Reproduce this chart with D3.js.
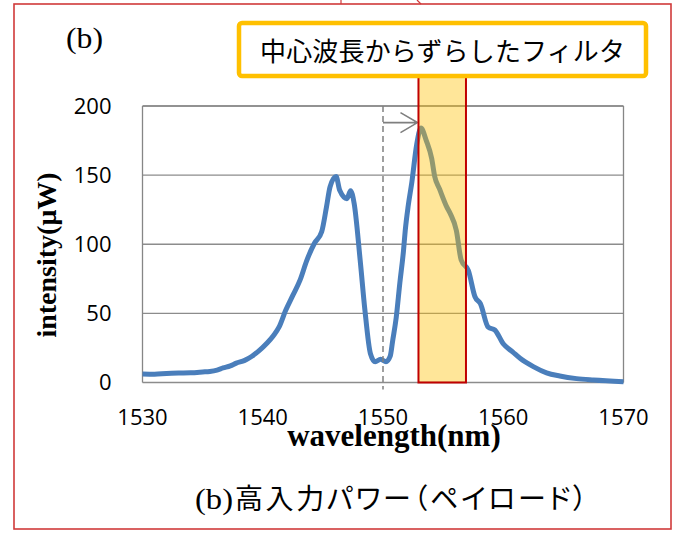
<!DOCTYPE html>
<html>
<head>
<meta charset="utf-8">
<script src="https://cdn.jsdelivr.net/npm/d3@7"></script>
<style>
  body { margin: 0; background: #fff; }
  svg { display: block; }
</style>
</head>
<body>
<div id="chart"></div>
<script>
// Spectrum under high input power, with a filter shifted from centre wavelength

const wavelengths = [
  1530, 1531, 1532, 1533, 1534, 1535, 1535.6, 1536.2, 1536.7, 1537.3,
  1537.8, 1538.5, 1539.1, 1539.7, 1540.3, 1540.9, 1541.35, 1541.9, 1542.5, 1543.1,
  1543.65, 1544.3, 1544.9, 1545.3, 1545.6, 1546.1, 1546.4, 1547.0, 1547.3, 1547.6,
  1548.1, 1548.5, 1548.95, 1549.35, 1549.8, 1550.25, 1550.6, 1550.8, 1551.1, 1551.4,
  1551.7, 1551.85, 1552.1, 1552.4, 1552.8, 1553.15, 1553.6, 1554.05, 1554.3, 1554.7,
  1555.3, 1555.6, 1556.1, 1556.5, 1557.1, 1557.65, 1558.1, 1558.75, 1559.3, 1560.0,
  1560.8, 1561.4, 1562.5, 1563.6, 1564.7, 1566.1, 1567.5, 1570
];
const intensities = [
  6.2, 6.0, 6.5, 6.8, 7.0, 7.6, 8.0, 9.0, 10.5, 12,
  14, 16, 19, 23, 28, 34, 40, 52, 63, 74,
  88, 100.7, 109, 127, 141.6, 149, 139, 133, 138.7, 129.6,
  88.6, 52, 21, 15, 16.8, 15, 19, 30, 47, 72,
  95, 110, 128, 145, 172, 184, 175, 162, 149, 140,
  127, 122, 110, 88.6, 81, 62, 57, 40, 38, 28,
  22, 17.5, 11.5, 7, 4.7, 2.8, 1.8, 0.6
];

const xTicks = [1530, 1540, 1550, 1560, 1570];
const yTicks = [0, 50, 100, 150, 200];

// filter band and the shift arrow
const filterBand = [1552.95, 1556.9];
const centerWavelength = 1550;
const arrowLevel = 188;

const panelLabel = '(b)';
const filterNote = '中心波長からずらしたフィルタ';
const xTitle = 'wavelength(nm)';
const yTitle = 'intensity(μW)';
const captionLatin = '(b)';
const captionCjk = '高入力パワー（ペイロード）';

const W = 674, H = 534;
const plot = { left: 142.5, right: 623.5, top: 106, bottom: 382.5 };

const svg = d3.select('#chart').append('svg')
  .attr('width', W)
  .attr('height', H);

// red outer frame (cropped slide)
svg.append('rect')
  .attr('x', 14).attr('y', 4)
  .attr('width', 657).attr('height', 525)
  .attr('fill', 'none')
  .attr('stroke', '#d03a3a')
  .attr('stroke-width', 1.6);
svg.append('line')
  .attr('x1', 341).attr('y1', 0).attr('x2', 341).attr('y2', 4)
  .attr('stroke', '#d03a3a').attr('stroke-width', 1.2);
svg.append('path')
  .attr('d', 'M417,0 Q419,2 421,4')
  .attr('fill', 'none')
  .attr('stroke', '#d03a3a').attr('stroke-width', 1.2);

const x = d3.scaleLinear().domain([1530, 1570]).range([plot.left, plot.right]);
const y = d3.scaleLinear().domain([0, 200]).range([plot.bottom, plot.top]);

// gridlines
svg.append('g')
  .selectAll('line')
  .data(yTicks)
  .enter().append('line')
  .attr('x1', plot.left).attr('x2', plot.right)
  .attr('y1', d => y(d)).attr('y2', d => y(d))
  .attr('stroke', d => d === 200 ? '#6e6e6e' : '#8c8c8c')
  .attr('stroke-width', d => d === 200 ? 1.6 : 1.3);

// plot side borders
svg.append('line')
  .attr('x1', plot.left).attr('x2', plot.left)
  .attr('y1', plot.top).attr('y2', plot.bottom)
  .attr('stroke', '#868686').attr('stroke-width', 1.3);
svg.append('line')
  .attr('x1', plot.right).attr('x2', plot.right)
  .attr('y1', plot.top).attr('y2', plot.bottom)
  .attr('stroke', '#868686').attr('stroke-width', 1.3);

// y tick labels
svg.append('g')
  .selectAll('text')
  .data(yTicks)
  .enter().append('text')
  .attr('x', plot.left - 31)
  .attr('y', d => y(d) + 7.5)
  .attr('text-anchor', 'end')
  .attr('font-family', '"Open Sans", "Liberation Sans", sans-serif')
  .attr('font-size', 22)
  .attr('fill', '#000')
  .text(d => d);

// x tick labels
svg.append('g')
  .selectAll('text')
  .data(xTicks)
  .enter().append('text')
  .attr('x', d => x(d))
  .attr('y', 425)
  .attr('text-anchor', 'middle')
  .attr('font-family', '"Open Sans", "Liberation Sans", sans-serif')
  .attr('font-size', 22)
  .attr('fill', '#000')
  .text(d => d);

// spectrum line
const points = wavelengths.map((w, i) => [w, intensities[i]]);
const line = d3.line()
  .x(d => x(d[0]))
  .y(d => y(d[1]))
  .curve(d3.curveMonotoneX);

svg.append('path')
  .datum(points)
  .attr('d', line)
  .attr('fill', 'none')
  .attr('stroke', '#4a7ebb')
  .attr('stroke-width', 5)
  .attr('stroke-linejoin', 'round')
  .attr('stroke-linecap', 'butt');

// dashed centre wavelength marker
svg.append('line')
  .attr('x1', x(centerWavelength)).attr('x2', x(centerWavelength))
  .attr('y1', plot.top).attr('y2', plot.bottom + 7)
  .attr('stroke', '#808080')
  .attr('stroke-width', 1.5)
  .attr('stroke-dasharray', '6,4');

// shift arrow
const tipX = x(filterBand[0]);
const arrowY = y(arrowLevel);
svg.append('path')
  .attr('d', `M${x(centerWavelength)},${arrowY}H${tipX - 1}`
    + `M${tipX - 18},${arrowY - 10}L${tipX - 1},${arrowY}L${tipX - 18},${arrowY + 10}`)
  .attr('fill', 'none')
  .attr('stroke', '#7f7f7f')
  .attr('stroke-width', 1.6);

// filter band (translucent, over the line)
svg.append('rect')
  .attr('x', x(filterBand[0]))
  .attr('y', 76)
  .attr('width', x(filterBand[1]) - x(filterBand[0]))
  .attr('height', y(0) - 76)
  .attr('fill', '#ffc000')
  .attr('fill-opacity', 0.4)
  .attr('stroke', '#c00000')
  .attr('stroke-width', 2);

// note box
svg.append('rect')
  .attr('x', 239).attr('y', 23)
  .attr('width', 407).attr('height', 53)
  .attr('rx', 3)
  .attr('fill', '#fff')
  .attr('stroke', '#ffc000')
  .attr('stroke-width', 4.5);
svg.append('text')
  .attr('x', 260)
  .attr('y', 61)
  .attr('textLength', 365)
  .attr('lengthAdjust', 'spacing')
  .attr('font-family', '"Noto Sans CJK JP", sans-serif')
  .attr('font-size', 26)
  .attr('fill', '#000')
  .text(filterNote);

// panel label
svg.append('text')
  .attr('x', 66).attr('y', 48)
  .attr('textLength', 37)
  .attr('lengthAdjust', 'spacingAndGlyphs')
  .attr('font-family', '"Liberation Serif", "Times New Roman", serif')
  .attr('font-size', 29)
  .attr('fill', '#000')
  .text(panelLabel);

// axis titles
svg.append('text')
  .attr('x', 394).attr('y', 446)
  .attr('text-anchor', 'middle')
  .attr('font-family', '"Liberation Serif", "Times New Roman", serif')
  .attr('font-weight', 'bold')
  .attr('font-size', 31)
  .attr('fill', '#000')
  .text(xTitle);

svg.append('text')
  .attr('transform', 'translate(56,255) rotate(-90)')
  .attr('text-anchor', 'middle')
  .attr('font-family', '"Liberation Serif", "Times New Roman", serif')
  .attr('font-weight', 'bold')
  .attr('font-size', 28)
  .attr('fill', '#000')
  .text(yTitle);

// caption
svg.append('text')
  .attr('x', 195).attr('y', 509)
  .attr('textLength', 38)
  .attr('lengthAdjust', 'spacingAndGlyphs')
  .attr('font-family', '"Liberation Serif", "Times New Roman", serif')
  .attr('font-size', 29)
  .attr('fill', '#000')
  .text(captionLatin);
svg.append('text')
  .attr('x', 235).attr('y', 509)
  .attr('textLength', 352)
  .attr('lengthAdjust', 'spacing')
  .attr('font-family', '"Noto Sans CJK JP", sans-serif')
  .attr('font-size', 28)
  .style('font-feature-settings', '"palt"')
  .attr('fill', '#000')
  .text(captionCjk);
</script>
</body>
</html>
